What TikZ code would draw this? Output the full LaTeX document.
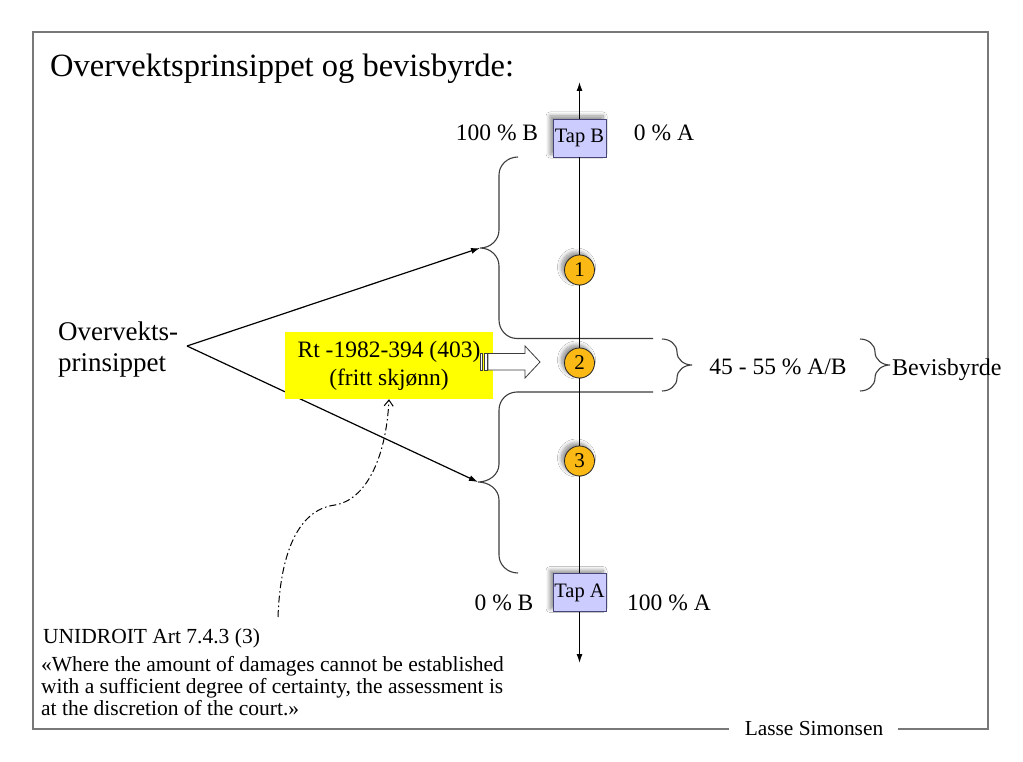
\documentclass[tikz,border=0pt]{standalone}
\usepackage{fontspec}
\setmainfont{Liberation Serif}
\usetikzlibrary{arrows.meta,shadows.blur}
\definecolor{tapfill}{RGB}{204,204,255}
\definecolor{tapdraw}{RGB}{70,70,120}
\definecolor{circfill}{RGB}{250,185,20}
\definecolor{framegray}{RGB}{120,120,120}
\definecolor{bracegray}{RGB}{60,60,60}
\definecolor{rtyellow}{RGB}{255,255,0}
\begin{document}
\begin{tikzpicture}[x=1pt,y=-1pt,
  txt/.style={inner sep=0pt, font=\fontsize{23.5}{28}\selectfont},
  smalltxt/.style={inner sep=0pt, font=\fontsize{21.5}{24}\selectfont},
  softshadow/.style={blur shadow={shadow xshift=-3pt, shadow yshift=3pt, shadow blur radius=4pt, shadow blur steps=8, shadow opacity=45}},
  tapbox/.style={draw=tapdraw, fill=tapfill, line width=0.8pt, minimum width=53pt, minimum height=38pt, inner sep=0pt, font=\fontsize{20.5}{24}\selectfont, softshadow},
  numcirc/.style={circle, draw=black!85, fill=circfill, line width=0.8pt, minimum size=30pt, inner sep=0pt, font=\fontsize{21}{24}\selectfont, softshadow},
  bracestyle/.style={draw=bracegray, line width=1.1pt},
  axisline/.style={line width=1.2pt, black},
  arr/.style={line width=1.2pt, -{Latex[length=9pt,width=6pt]}},
  hollow/.style={draw=bracegray, fill=white, line width=0.8pt}
]
\fill[white] (0,0) rectangle (1023,762);
\useasboundingbox (0,0) rectangle (1023,762);

% frame
\draw[framegray, line width=1.5pt] (729,729) -- (33,729) -- (33,32) -- (988,32) -- (988,729) -- (898,729);
\node[inner sep=0pt, font=\fontsize{21.4}{24}\selectfont, anchor=base] (author) at (814,735) {Lasse Simonsen};

% title
\node[inner sep=0pt, anchor=base west, font=\fontsize{32.5}{38}\selectfont] (title) at (50,77) {Overvektsprinsippet og bevisbyrde:};

% coordinates
\coordinate (axTop) at (579.5,82);
\coordinate (axBot) at (579.5,663);
\coordinate (apex) at (187,346);
\coordinate (upTip) at (480,248);
\coordinate (loTip) at (478,482);

% braces on the left with horizontal arms
\draw[bracestyle] (518,157) to[out=180,in=90] (499,175) -- (499,230) to[out=-90,in=0] (upTip)
  to[out=0,in=90] (499,266) -- (499,320) to[out=-90,in=180] (517,338.5) -- (653,338.5);
\draw[bracestyle] (653,392) -- (517,392) to[out=180,in=90] (499,410) -- (499,464) to[out=-90,in=0] (loTip)
  to[out=0,in=90] (499,500) -- (499,555) to[out=-90,in=180] (518,573);

% braces on the right
\draw[bracestyle] (662,339) to[out=0,in=90] (677,352) to[out=-90,in=180] (692,365)
  to[out=180,in=90] (677,378) to[out=-90,in=0] (662,391);
\draw[bracestyle] (860,339) to[out=0,in=90] (875,352) to[out=-90,in=180] (890,365)
  to[out=180,in=90] (875,378) to[out=-90,in=0] (860,391);

% axis nodes
\node[tapbox] (tapB) at (579.5,138) {Tap B};
\node[tapbox] (tapA) at (579.5,592.5) {Tap A};
\node[numcirc] (c1) at (579.5,270) {1};
\node[numcirc] (c2) at (579.5,363) {2};
\node[numcirc] (c3) at (579.5,461) {3};
\draw[axisline] (tapB) -- (c1) -- (c2) -- (c3) -- (tapA);
\draw[axisline, -{Latex[length=9pt,width=6pt]}] (tapB) -- (axTop);
\draw[axisline, -{Latex[length=9pt,width=6pt]}] (tapA) -- (axBot);

% percentage labels
\node[txt, anchor=base] (pB100) at (497,141) {100 \% B};
\node[txt, anchor=base] (pA0) at (664,141) {0 \% A};
\node[txt, anchor=base] (pB0) at (504,610) {0 \% B};
\node[txt, anchor=base] (pA100) at (669,610) {100 \% A};
\node[txt, anchor=base] (mid) at (778,374) {45 - 55 \% A/B};
\node[txt, font=\fontsize{24}{28}\selectfont, anchor=base west] (bev) at (892,375) {Bevisbyrde};

% Overvekts-prinsippet
\node[inner sep=0pt, anchor=base west, font=\fontsize{27}{31}\selectfont] (ovp1) at (58,340) {Overvekts-};
\node[inner sep=0pt, anchor=base west, font=\fontsize{27}{31}\selectfont] (ovp2) at (58,371) {prinsippet};
\draw[arr] (apex) -- (upTip);
\draw[arr] (apex) -- (loTip);

% yellow box
\node[fill=rtyellow, minimum width=208pt, minimum height=67pt, inner sep=0pt, align=center,
  font=\fontsize{23.5}{28}\selectfont] (rt) at (389,365.5) {Rt -1982-394 (403)\\(fritt skjønn)};

% striped hollow arrow
\draw[hollow] (488,353.5) -- (525,353.5) -- (525,346) -- (540,362) -- (525,378) -- (525,370) -- (488,370) -- cycle;
\draw[hollow] (480,353.5) rectangle (482.8,370);
\draw[hollow] (484.3,353.5) rectangle (487,370);

% dash-dot curved arrow
\coordinate (ddStart) at (278,617);
\draw[line width=1pt, dash pattern=on 7pt off 3pt on 1.5pt off 3pt, -{Straight Barb[length=6pt,width=9pt]}]
  (ddStart) .. controls (280,560) and (295,510) .. (335,505)
  .. controls (365,500) and (386,460) .. (rt.south -| 389,0);

% UNIDROIT text
\node[smalltxt, anchor=base west] (u1) at (43,643) {UNIDROIT Art 7.4.3 (3)};
\node[smalltxt, anchor=base west] (u2) at (41,671.5) {«Where the amount of damages cannot be established};
\node[smalltxt, anchor=base west] (u3) at (41,693.5) {with a sufficient degree of certainty, the assessment is};
\node[smalltxt, anchor=base west] (u4) at (41,715) {at the discretion of the court.»};
\end{tikzpicture}
\end{document}
